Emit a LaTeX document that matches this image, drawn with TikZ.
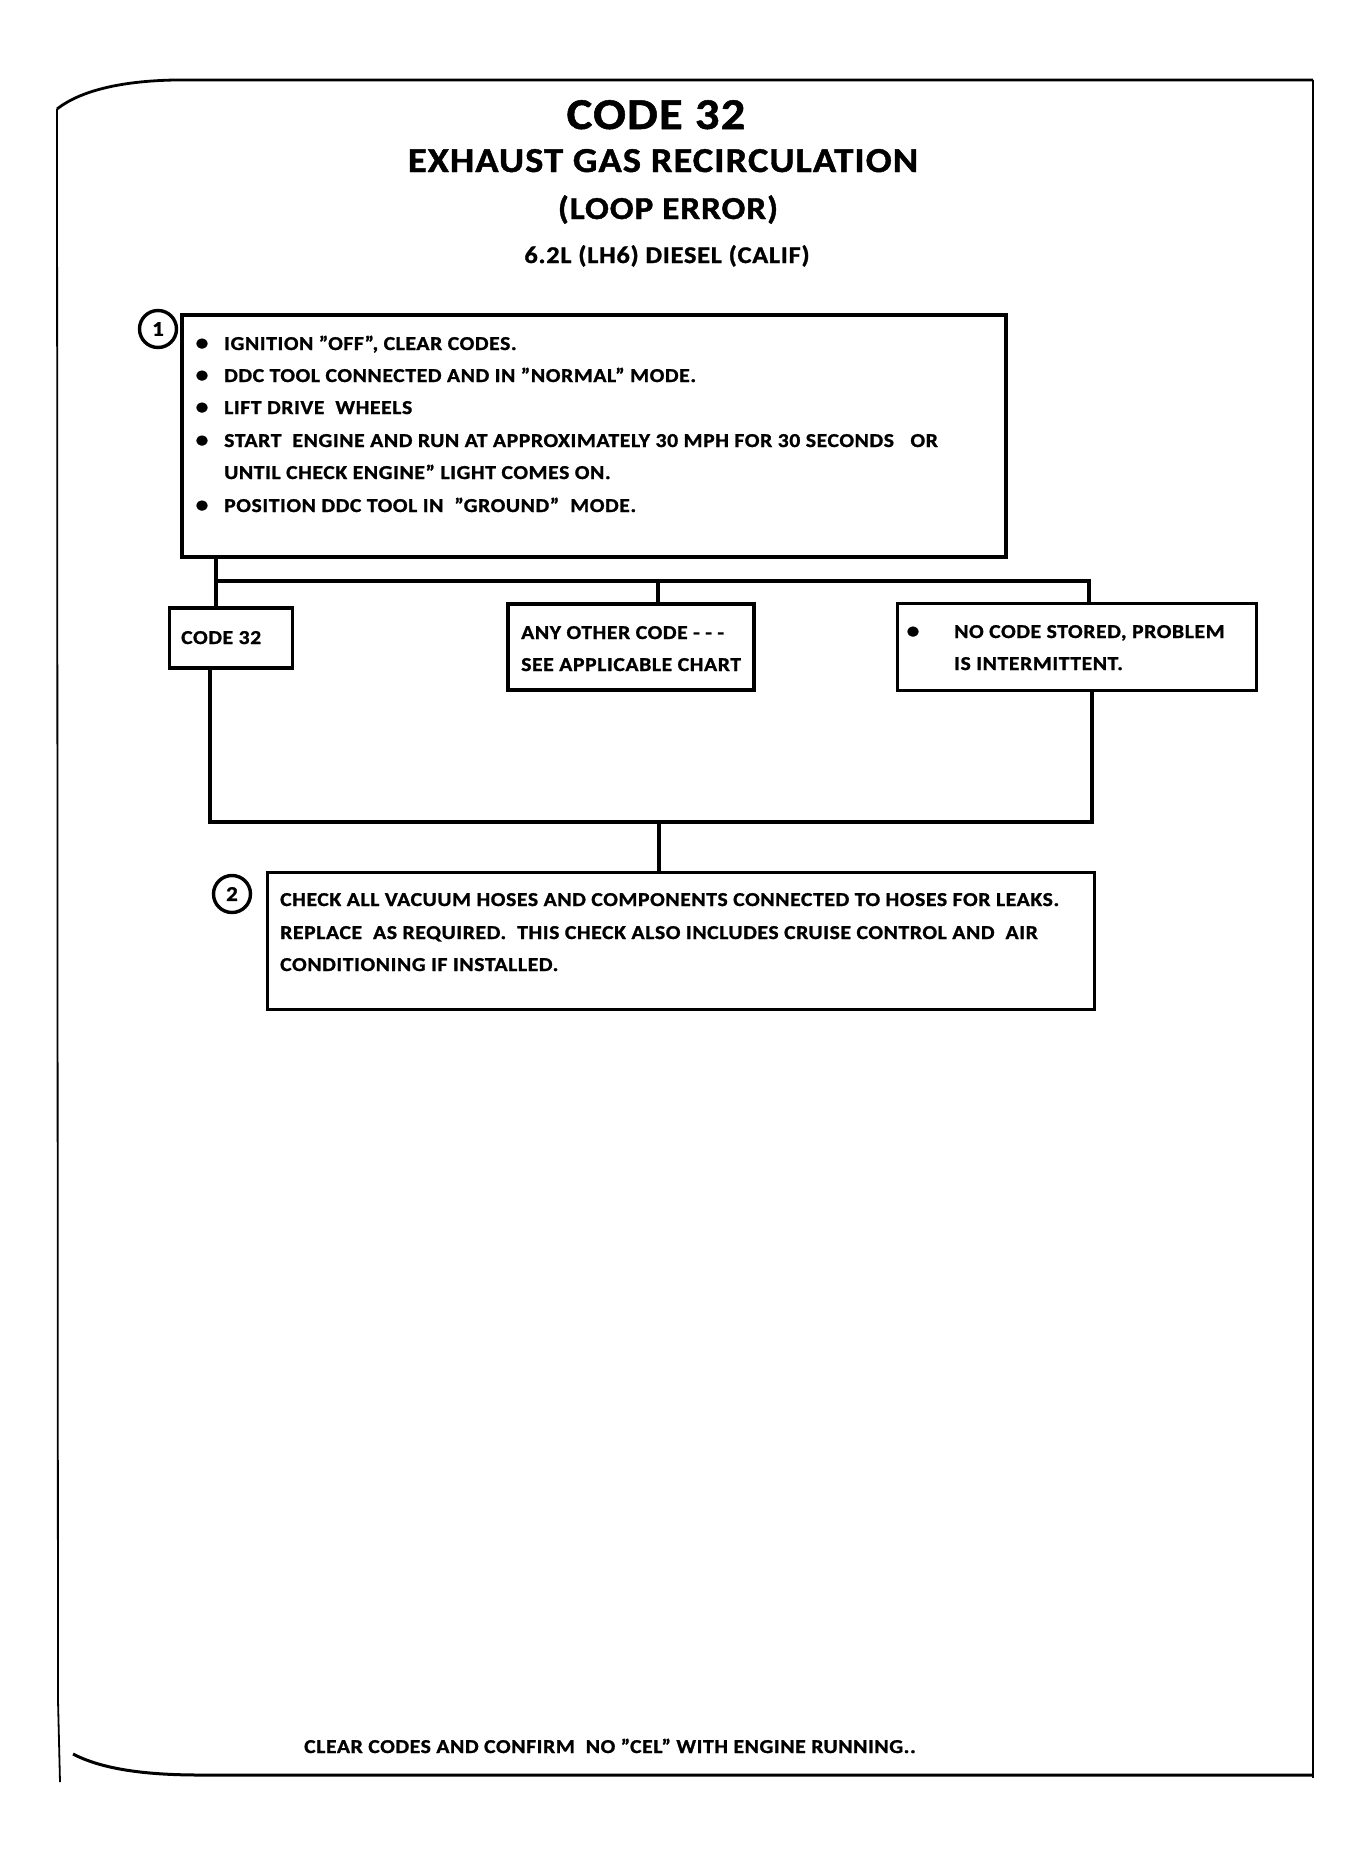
\documentclass[tikz,border=0pt]{standalone}
\usepackage{fontspec}
\setmainfont{Carlito}[FakeStretch=1.1,LetterSpace=3,BoldFeatures={FakeBold=1.2}]
\begin{document}
\begin{tikzpicture}[x=1pt,y=-1pt,
  boxn/.style={draw,line width=3.2pt,inner sep=0pt,outer sep=0pt},
  conn/.style={line width=3.2pt},
  numc/.style={draw,circle,line width=3.4pt,minimum size=37pt,inner sep=0pt,font=\fontsize{21}{21}\bfseries\selectfont},
  txt/.style={anchor=base west,inner sep=0pt,font=\fontsize{19.7}{22}\bfseries\selectfont},
  bul/.style={anchor=base,inner sep=0pt,font=\fontsize{23}{23}\bfseries\selectfont},
  ttl/.style={anchor=base,inner sep=0pt}]
\useasboundingbox (0,0) rectangle (1370,1860);
% frame
\draw[line width=2.8pt] (57,109) .. controls (80,91) and (120,81) .. (175,80) -- (1313,80);
\draw[line width=1.8pt] (57,109) -- (58,1700) -- (60,1782);
\draw[line width=1.8pt] (1313,80) -- (1313,1778);
\draw[line width=3pt] (73,1754) .. controls (100,1768) and (140,1775) .. (200,1775) -- (1313,1775);
% titles
\node[ttl,font=\fontsize{44}{46}\bfseries\selectfont] (t1) at (656,129) {CODE 32};
\node[ttl,font=\fontsize{35}{37}\bfseries\selectfont] (t2) at (663,172) {EXHAUST GAS RECIRCULATION};
\node[ttl,font=\fontsize{32}{34}\bfseries\selectfont] (t3) at (668,219) {(LOOP ERROR)};
\node[ttl,font=\fontsize{24}{26}\bfseries\selectfont] (t4) at (667,263) {6.2L (LH6) DIESEL (CALIF)};
% box 1
\node[boxn,minimum width=824pt,minimum height=242pt] (b1) at (594,436) {};
\node[numc] (n1) at (158,329) {1};
\node[bul] (u1) at (202,350) {•};
\node[txt] (l1) at (224,350) {IGNITION "OFF", CLEAR CODES.};
\node[bul] (u2) at (202,382) {•};
\node[txt] (l2) at (224,382) {DDC TOOL CONNECTED AND IN "NORMAL" MODE.};
\node[bul] (u3) at (202,414) {•};
\node[txt] (l3) at (224,414) {LIFT DRIVE \ WHEELS};
\node[bul] (u4) at (202,447) {•};
\node[txt] (l4) at (224,447) {START \ ENGINE AND RUN AT APPROXIMATELY 30 MPH FOR 30 SECONDS \ \ OR};
\node[txt] (l5) at (224,479) {UNTIL CHECK ENGINE" LIGHT COMES ON.};
\node[bul] (u6) at (202,512) {•};
\node[txt] (l6) at (224,512) {POSITION DDC TOOL IN \ "GROUND" \ MODE.};
% middle boxes
\node[boxn,minimum width=123pt,minimum height=60pt] (c32) at (231,638) {};
\node[txt] (c32t) at (181,644) {CODE 32};
\node[boxn,minimum width=246pt,minimum height=86pt] (oth) at (631,647) {};
\node[txt] (o1) at (521,639) {ANY OTHER CODE - - -};
\node[txt] (o2) at (521,671) {SEE APPLICABLE CHART};
\node[boxn,minimum width=359pt,minimum height=87pt] (noc) at (1077,647) {};
\node[bul] (nb) at (913,638) {•};
\node[txt] (nc1) at (954,638) {NO CODE STORED, PROBLEM};
\node[txt] (nc2) at (954,670) {IS INTERMITTENT.};
% box 2
\node[boxn,minimum width=827pt,minimum height=137pt] (b2) at (681,941) {};
\node[numc] (n2) at (232,894) {2};
\node[txt] (m1) at (280,906) {CHECK ALL VACUUM HOSES AND COMPONENTS CONNECTED TO HOSES FOR LEAKS.};
\node[txt] (m2) at (280,939) {REPLACE \ AS REQUIRED. \ THIS CHECK ALSO INCLUDES CRUISE CONTROL AND \ AIR};
\node[txt] (m3) at (280,971) {CONDITIONING IF INSTALLED.};
% footer
\node[txt] (ft) at (304,1753) {CLEAR CODES AND CONFIRM \ NO "CEL" WITH ENGINE RUNNING..};
% connectors
\coordinate (ja) at (216,581);
\coordinate (jm) at (658,581);
\coordinate (jb) at (1089,581);
\coordinate (jc) at (210,822);
\coordinate (je) at (659,822);
\coordinate (jd) at (1092,822);
\draw[conn] (b1.south -| ja) -- (c32.north -| ja);
\draw[conn] (ja) -- (jb) -- (noc.north -| jb);
\draw[conn] (jm) -- (oth.north -| jm);
\draw[conn] (c32.south -| jc) -- (jc) -- (jd) -- (noc.south -| jd);
\draw[conn] (je) -- (b2.north -| je);
\end{tikzpicture}
\end{document}
